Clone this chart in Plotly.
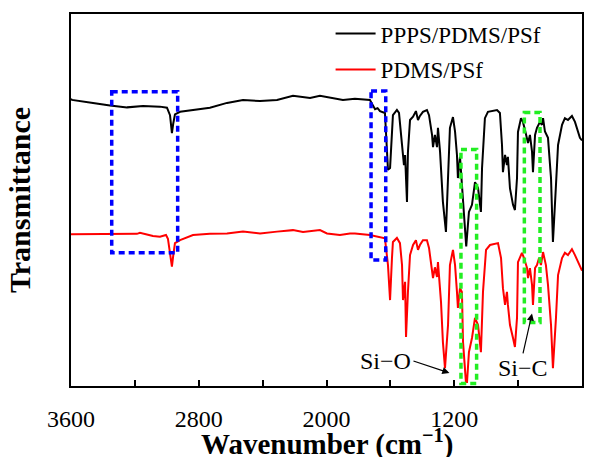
import plotly.graph_objects as go

# ---- data (wavenumber in cm^-1, transmittance in a.u.) ----
wn_ppps = [3600, 3594, 3462, 3356, 3249, 3149, 3043, 2999, 2980, 2968, 2960, 2949, 2917, 2836,
           2730, 2623, 2523, 2416, 2310, 2210, 2103, 2041, 1959, 1897, 1822, 1728, 1710, 1696,
           1680, 1665, 1634, 1615, 1602, 1590, 1584, 1559, 1546, 1527, 1515, 1508, 1496, 1490,
           1477, 1458, 1440, 1427, 1415, 1396, 1371, 1358, 1339, 1333, 1321, 1308, 1302, 1289,
           1271, 1252, 1239, 1227, 1208, 1195, 1183, 1177, 1164, 1145, 1125, 1108, 1089, 1070,
           1051, 1033, 1026, 1008, 989, 932, 914, 901, 895, 882, 870, 864, 851, 832, 820, 807,
           801, 782, 770, 757, 738, 726, 713, 707, 694, 682, 663, 651, 644, 632, 613, 594, 582,
           563, 550, 525, 507, 488, 463, 444, 425, 413, 400]
t_ppps = [77.2, 76.9, 76.1, 75.4, 74.9, 75.3, 75.1, 74.8, 72.8, 68.0, 70.5, 73.0, 73.7, 74.2,
          74.8, 76.1, 76.9, 76.6, 76.9, 78.0, 77.4, 78.0, 77.4, 76.9, 77.2, 76.9, 75.5, 74.4,
          74.7, 73.9, 73.4, 58.1, 58.6, 66.1, 72.8, 74.2, 73.4, 64.8, 59.4, 62.1, 49.5, 62.9,
          71.5, 72.4, 73.9, 71.5, 72.6, 73.7, 74.2, 72.8, 67.5, 64.2, 67.5, 64.2, 69.4, 63.0,
          49.5, 41.4, 54.0, 69.4, 72.3, 68.4, 62.1, 55.9, 61.6, 49.5, 37.5, 46.8, 48.7, 54.8,
          53.2, 46.8, 58.6, 72.0, 73.7, 74.2, 73.4, 64.8, 57.5, 62.1, 59.4, 61.6, 53.1, 48.7,
          47.3, 55.9, 68.3, 72.0, 71.0, 68.8, 65.3, 67.5, 63.0, 57.5, 67.5, 69.4, 71.0, 70.2,
          72.0, 68.4, 66.7, 55.9, 38.7, 54.0, 64.8, 70.2, 72.0, 71.5, 72.6, 71.0, 68.3, 66.7, 66.0]

wn_pdms = [3600, 3187, 3168, 3087, 3043, 3005, 2993, 2980, 2968, 2960, 2949, 2917, 2836, 2730,
           2623, 2523, 2416, 2310, 2210, 2147, 2041, 1997, 1916, 1853, 1822, 1728, 1634, 1615,
           1602, 1590, 1584, 1559, 1540, 1527, 1521, 1508, 1502, 1490, 1477, 1458, 1440, 1427,
           1415, 1396, 1371, 1358, 1339, 1333, 1321, 1308, 1302, 1283, 1271, 1258, 1239, 1227,
           1208, 1195, 1183, 1177, 1164, 1152, 1145, 1127, 1120, 1108, 1089, 1070, 1051, 1033,
           1020, 1001, 976, 926, 907, 895, 882, 870, 864, 851, 832, 820, 807, 801, 776, 763,
           744, 738, 726, 713, 707, 694, 682, 669, 657, 644, 626, 613, 594, 582, 563, 550, 525,
           507, 488, 463, 444, 425, 413, 400]
t_pdms = [40.8, 40.9, 41.2, 40.3, 40.1, 40.6, 39.6, 36.0, 32.1, 35.0, 38.4, 39.2, 40.6, 40.9,
          41.0, 41.5, 41.0, 41.5, 41.9, 41.4, 41.9, 41.0, 40.6, 41.0, 41.0, 40.6, 39.7, 32.5,
          23.1, 34.4, 38.7, 39.8, 38.4, 32.5, 23.1, 28.0, 13.2, 25.3, 35.2, 37.9, 39.2, 36.6,
          37.9, 39.2, 39.2, 37.1, 31.7, 29.0, 31.9, 29.3, 33.3, 22.6, 11.8, 4.8, 16.4, 32.5,
          36.6, 32.5, 25.3, 21.0, 26.3, 25.3, 11.8, 1.1, 1.1, 9.1, 12.9, 18.3, 16.4, 9.1,
          25.3, 36.6, 37.9, 38.4, 34.4, 26.3, 21.8, 25.3, 21.8, 16.4, 12.9, 10.5, 18.3, 33.3,
          35.8, 34.4, 31.7, 29.0, 31.7, 27.2, 21.8, 31.7, 32.5, 34.4, 32.5, 36.0, 32.5, 27.2,
          16.4, 4.8, 18.3, 29.8, 34.4, 35.8, 35.2, 36.8, 35.2, 33.3, 32.0, 31.0]

series_names = ["PPPS/PDMS/PSf", "PDMS/PSf"]
tick_vals = [3600, 2800, 2000, 1200, 400]
tick_text = ["3600", "2800", "2000", "1200", "400"]

# highlighted regions: (wn_high, wn_low, t_top, t_bottom)
blue_boxes = [(3345, 2932, 79.1, 35.8), (1721, 1629, 79.3, 33.9)]
green_boxes = [(1158, 1060, 63.6, 0.7), (761, 663, 73.5, 17.1)]

FONT = "Liberation Serif"

fig = go.Figure()
fig.add_trace(go.Scatter(x=wn_ppps, y=t_ppps, mode="lines", name=series_names[0],
                         line=dict(color="black", width=2), legendgroup="a"))
fig.add_trace(go.Scatter(x=wn_pdms, y=t_pdms, mode="lines", name=series_names[1],
                         line=dict(color="red", width=2), legendgroup="b"))

for (x0, x1, y0, y1) in blue_boxes:
    fig.add_shape(type="rect", xref="x", yref="y", x0=x0, x1=x1, y0=y0, y1=y1,
                  line=dict(color="#0000FF", width=3.5, dash="6px,4px"))
for (x0, x1, y0, y1) in green_boxes:
    fig.add_shape(type="rect", xref="x", yref="y", x0=x0, x1=x1, y0=y0, y1=y1,
                  line=dict(color="#22EE22", width=3.5, dash="6px,4px"))

# Si-O annotation
fig.add_annotation(x=1230, y=3.5, xref="x", yref="y", text="Si−O", showarrow=True,
                   ax=-36, ay=-12, arrowhead=2, arrowsize=1.2, arrowwidth=1.2,
                   arrowcolor="black", xanchor="right",
                   font=dict(family=FONT, size=24, color="black"))
# Si-C annotation
fig.add_annotation(x=713, y=19.5, xref="x", yref="y", text="Si−C", showarrow=True,
                   ax=-9, ay=40, arrowhead=2, arrowsize=1.2, arrowwidth=1.2,
                   arrowcolor="black", yanchor="top",
                   font=dict(family=FONT, size=24, color="black"))

# x-axis title placed precisely below the tick labels
fig.add_annotation(x=0.5, y=-0.152, xref="paper", yref="paper", showarrow=False,
                   text="<b>Wavenumber (cm<sup>−1</sup>)</b>", yanchor="middle",
                   font=dict(family=FONT, size=29, color="black"))

fig.update_layout(
    width=599, height=457,
    margin=dict(l=71, r=17, t=14, b=71, autoexpand=False),
    paper_bgcolor="white", plot_bgcolor="white",
    font=dict(family=FONT, color="black"),
    showlegend=True,
    legend=dict(x=0.508, y=1.005, xanchor="left", yanchor="top", bgcolor="rgba(0,0,0,0)",
                font=dict(family=FONT, size=23, color="black"), tracegroupgap=3,
                itemwidth=40),
    xaxis=dict(range=[3600, 400], tickvals=tick_vals, ticktext=tick_text, automargin=False,
               ticks="inside", ticklen=6, tickwidth=1.5, tickcolor="black",
               ticklabelposition="outside", ticklabelstandoff=10,
               minor=dict(tickvals=[3200, 2400, 1600, 800], ticks="inside", ticklen=6,
                          tickwidth=1.5, tickcolor="black"),
               showline=True, linecolor="black", linewidth=2, mirror=True,
               showgrid=False, zeroline=False,
               tickfont=dict(family=FONT, size=24, color="black")),
    yaxis=dict(range=[0, 100], showticklabels=False, ticks="", automargin=False,
               showline=True, linecolor="black", linewidth=2, mirror=True,
               showgrid=False, zeroline=False,
               title=dict(text="<b>Transmittance</b>", standoff=30,
                          font=dict(family=FONT, size=30, color="black"))),
)

fig.write_html("out.html")
